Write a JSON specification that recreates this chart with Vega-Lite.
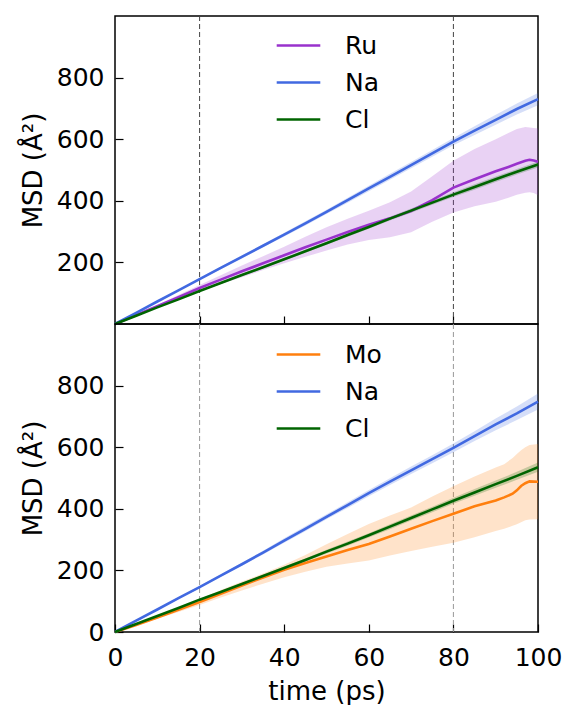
{
"$schema":"https://vega.github.io/schema/vega-lite/v6.json",
"padding":{"left":19,"top":14,"right":2,"bottom":4},
"spacing":0,
"bounds":"flush",
"resolve":{"scale":{"color":"independent"},"legend":{"color":"independent"}},
"config":{
"font":"DejaVu Sans",
"view":{"stroke":"black","strokeWidth":1.5},
"axis":{"domain":false,"grid":false,"tickColor":"black","tickWidth":1.2,"tickSize":-8,"labelFontSize":25,"titleFontSize":26,"labelColor":"black","titleColor":"black","titleFontWeight":"normal"},
"axisY":{"labelPadding":19},
"axisX":{"labelPadding":21},
"legend":{"orient":"none","title":null,"symbolType":"stroke","symbolSize":1900,"symbolStrokeWidth":2.6,"symbolOpacity":1,"labelFontSize":25,"labelOffset":23,"labelColor":"black","rowPadding":0}
},
"datasets":{
"vl":[{"t":20},{"t":80}],
"msd":[
{"p":"top","s":"Ru","t":0,"m":0,"lo":0,"hi":0},
{"p":"top","s":"Ru","t":5,"m":29,"lo":27,"hi":31},
{"p":"top","s":"Ru","t":10,"m":58,"lo":54,"hi":62},
{"p":"top","s":"Ru","t":15,"m":87,"lo":80,"hi":94},
{"p":"top","s":"Ru","t":20,"m":117,"lo":107,"hi":127},
{"p":"top","s":"Ru","t":25,"m":144,"lo":130,"hi":158},
{"p":"top","s":"Ru","t":30,"m":171,"lo":152,"hi":190},
{"p":"top","s":"Ru","t":35,"m":197,"lo":175,"hi":220},
{"p":"top","s":"Ru","t":40,"m":223,"lo":197,"hi":251},
{"p":"top","s":"Ru","t":45,"m":249,"lo":218,"hi":283},
{"p":"top","s":"Ru","t":50,"m":274,"lo":239,"hi":314},
{"p":"top","s":"Ru","t":55,"m":299,"lo":258,"hi":342},
{"p":"top","s":"Ru","t":60,"m":322,"lo":273,"hi":368},
{"p":"top","s":"Ru","t":65,"m":343,"lo":282,"hi":395},
{"p":"top","s":"Ru","t":70,"m":367,"lo":298,"hi":430},
{"p":"top","s":"Ru","t":75,"m":402,"lo":332,"hi":480},
{"p":"top","s":"Ru","t":80,"m":443,"lo":362,"hi":530},
{"p":"top","s":"Ru","t":85,"m":470,"lo":382,"hi":568},
{"p":"top","s":"Ru","t":90,"m":496,"lo":397,"hi":600},
{"p":"top","s":"Ru","t":93,"m":510,"lo":410,"hi":620},
{"p":"top","s":"Ru","t":95,"m":520,"lo":420,"hi":633},
{"p":"top","s":"Ru","t":97,"m":530,"lo":426,"hi":640},
{"p":"top","s":"Ru","t":98,"m":533,"lo":428,"hi":638},
{"p":"top","s":"Ru","t":99,"m":531,"lo":425,"hi":636},
{"p":"top","s":"Ru","t":100,"m":527,"lo":418,"hi":635},
{"p":"top","s":"Na","t":0,"m":0,"lo":0,"hi":0},
{"p":"top","s":"Na","t":5,"m":36,"lo":35,"hi":37},
{"p":"top","s":"Na","t":10,"m":73,"lo":71,"hi":75},
{"p":"top","s":"Na","t":15,"m":109,"lo":107,"hi":111},
{"p":"top","s":"Na","t":20,"m":146,"lo":143,"hi":149},
{"p":"top","s":"Na","t":25,"m":182,"lo":178,"hi":186},
{"p":"top","s":"Na","t":30,"m":218,"lo":213,"hi":223},
{"p":"top","s":"Na","t":35,"m":254,"lo":249,"hi":259},
{"p":"top","s":"Na","t":40,"m":290,"lo":284,"hi":296},
{"p":"top","s":"Na","t":45,"m":327,"lo":320,"hi":334},
{"p":"top","s":"Na","t":50,"m":364,"lo":357,"hi":371},
{"p":"top","s":"Na","t":55,"m":402,"lo":394,"hi":410},
{"p":"top","s":"Na","t":60,"m":440,"lo":431,"hi":449},
{"p":"top","s":"Na","t":65,"m":478,"lo":468,"hi":488},
{"p":"top","s":"Na","t":70,"m":516,"lo":506,"hi":526},
{"p":"top","s":"Na","t":75,"m":554,"lo":543,"hi":565},
{"p":"top","s":"Na","t":80,"m":592,"lo":580,"hi":604},
{"p":"top","s":"Na","t":85,"m":628,"lo":614,"hi":642},
{"p":"top","s":"Na","t":90,"m":663,"lo":647,"hi":679},
{"p":"top","s":"Na","t":95,"m":698,"lo":680,"hi":716},
{"p":"top","s":"Na","t":100,"m":730,"lo":710,"hi":750},
{"p":"top","s":"Cl","t":0,"m":0,"lo":0,"hi":0},
{"p":"top","s":"Cl","t":5,"m":27,"lo":26,"hi":28},
{"p":"top","s":"Cl","t":10,"m":54,"lo":53,"hi":55},
{"p":"top","s":"Cl","t":15,"m":80,"lo":78,"hi":82},
{"p":"top","s":"Cl","t":20,"m":107,"lo":105,"hi":109},
{"p":"top","s":"Cl","t":25,"m":133,"lo":130,"hi":136},
{"p":"top","s":"Cl","t":30,"m":159,"lo":156,"hi":162},
{"p":"top","s":"Cl","t":35,"m":184,"lo":180,"hi":188},
{"p":"top","s":"Cl","t":40,"m":210,"lo":206,"hi":214},
{"p":"top","s":"Cl","t":45,"m":236,"lo":231,"hi":241},
{"p":"top","s":"Cl","t":50,"m":262,"lo":257,"hi":267},
{"p":"top","s":"Cl","t":55,"m":289,"lo":283,"hi":295},
{"p":"top","s":"Cl","t":60,"m":315,"lo":309,"hi":321},
{"p":"top","s":"Cl","t":65,"m":342,"lo":336,"hi":348},
{"p":"top","s":"Cl","t":70,"m":368,"lo":361,"hi":375},
{"p":"top","s":"Cl","t":75,"m":394,"lo":387,"hi":401},
{"p":"top","s":"Cl","t":80,"m":420,"lo":412,"hi":428},
{"p":"top","s":"Cl","t":85,"m":445,"lo":436,"hi":454},
{"p":"top","s":"Cl","t":90,"m":470,"lo":461,"hi":479},
{"p":"top","s":"Cl","t":95,"m":494,"lo":485,"hi":503},
{"p":"top","s":"Cl","t":100,"m":518,"lo":508,"hi":528},
{"p":"bot","s":"Mo","t":0,"m":0,"lo":0,"hi":0},
{"p":"bot","s":"Mo","t":5,"m":23,"lo":21,"hi":25},
{"p":"bot","s":"Mo","t":10,"m":47,"lo":43,"hi":51},
{"p":"bot","s":"Mo","t":15,"m":72,"lo":65,"hi":79},
{"p":"bot","s":"Mo","t":20,"m":97,"lo":88,"hi":106},
{"p":"bot","s":"Mo","t":25,"m":124,"lo":112,"hi":136},
{"p":"bot","s":"Mo","t":30,"m":151,"lo":135,"hi":164},
{"p":"bot","s":"Mo","t":35,"m":177,"lo":157,"hi":190},
{"p":"bot","s":"Mo","t":40,"m":202,"lo":178,"hi":218},
{"p":"bot","s":"Mo","t":45,"m":224,"lo":196,"hi":250},
{"p":"bot","s":"Mo","t":50,"m":245,"lo":212,"hi":285},
{"p":"bot","s":"Mo","t":55,"m":266,"lo":222,"hi":318},
{"p":"bot","s":"Mo","t":60,"m":286,"lo":232,"hi":351},
{"p":"bot","s":"Mo","t":65,"m":310,"lo":248,"hi":378},
{"p":"bot","s":"Mo","t":70,"m":335,"lo":263,"hi":404},
{"p":"bot","s":"Mo","t":75,"m":360,"lo":277,"hi":440},
{"p":"bot","s":"Mo","t":80,"m":384,"lo":290,"hi":473},
{"p":"bot","s":"Mo","t":85,"m":408,"lo":308,"hi":505},
{"p":"bot","s":"Mo","t":90,"m":427,"lo":328,"hi":534},
{"p":"bot","s":"Mo","t":92,"m":437,"lo":335,"hi":545},
{"p":"bot","s":"Mo","t":94,"m":449,"lo":345,"hi":565},
{"p":"bot","s":"Mo","t":95,"m":460,"lo":350,"hi":578},
{"p":"bot","s":"Mo","t":96,"m":474,"lo":356,"hi":590},
{"p":"bot","s":"Mo","t":97,"m":483,"lo":363,"hi":600},
{"p":"bot","s":"Mo","t":98,"m":489,"lo":365,"hi":607},
{"p":"bot","s":"Mo","t":100,"m":488,"lo":366,"hi":610},
{"p":"bot","s":"Na","t":0,"m":0,"lo":0,"hi":0},
{"p":"bot","s":"Na","t":5,"m":37,"lo":36,"hi":38},
{"p":"bot","s":"Na","t":10,"m":73,"lo":71,"hi":75},
{"p":"bot","s":"Na","t":15,"m":110,"lo":107,"hi":113},
{"p":"bot","s":"Na","t":20,"m":146,"lo":143,"hi":149},
{"p":"bot","s":"Na","t":25,"m":183,"lo":179,"hi":187},
{"p":"bot","s":"Na","t":30,"m":220,"lo":215,"hi":225},
{"p":"bot","s":"Na","t":35,"m":258,"lo":252,"hi":264},
{"p":"bot","s":"Na","t":40,"m":297,"lo":290,"hi":304},
{"p":"bot","s":"Na","t":45,"m":335,"lo":327,"hi":343},
{"p":"bot","s":"Na","t":50,"m":374,"lo":366,"hi":382},
{"p":"bot","s":"Na","t":55,"m":412,"lo":403,"hi":421},
{"p":"bot","s":"Na","t":60,"m":451,"lo":441,"hi":461},
{"p":"bot","s":"Na","t":65,"m":488,"lo":477,"hi":499},
{"p":"bot","s":"Na","t":70,"m":525,"lo":513,"hi":537},
{"p":"bot","s":"Na","t":75,"m":561,"lo":548,"hi":574},
{"p":"bot","s":"Na","t":80,"m":598,"lo":584,"hi":612},
{"p":"bot","s":"Na","t":85,"m":636,"lo":620,"hi":652},
{"p":"bot","s":"Na","t":90,"m":674,"lo":655,"hi":693},
{"p":"bot","s":"Na","t":95,"m":710,"lo":688,"hi":732},
{"p":"bot","s":"Na","t":100,"m":748,"lo":722,"hi":774},
{"p":"bot","s":"Cl","t":0,"m":0,"lo":0,"hi":0},
{"p":"bot","s":"Cl","t":5,"m":26,"lo":25,"hi":27},
{"p":"bot","s":"Cl","t":10,"m":52,"lo":51,"hi":53},
{"p":"bot","s":"Cl","t":15,"m":78,"lo":76,"hi":80},
{"p":"bot","s":"Cl","t":20,"m":105,"lo":103,"hi":107},
{"p":"bot","s":"Cl","t":25,"m":130,"lo":127,"hi":133},
{"p":"bot","s":"Cl","t":30,"m":156,"lo":152,"hi":160},
{"p":"bot","s":"Cl","t":35,"m":182,"lo":178,"hi":186},
{"p":"bot","s":"Cl","t":40,"m":208,"lo":203,"hi":213},
{"p":"bot","s":"Cl","t":45,"m":234,"lo":229,"hi":239},
{"p":"bot","s":"Cl","t":50,"m":261,"lo":255,"hi":267},
{"p":"bot","s":"Cl","t":55,"m":287,"lo":280,"hi":294},
{"p":"bot","s":"Cl","t":60,"m":314,"lo":307,"hi":321},
{"p":"bot","s":"Cl","t":65,"m":342,"lo":334,"hi":350},
{"p":"bot","s":"Cl","t":70,"m":370,"lo":362,"hi":378},
{"p":"bot","s":"Cl","t":75,"m":398,"lo":389,"hi":407},
{"p":"bot","s":"Cl","t":80,"m":426,"lo":416,"hi":436},
{"p":"bot","s":"Cl","t":85,"m":453,"lo":442,"hi":464},
{"p":"bot","s":"Cl","t":90,"m":480,"lo":468,"hi":492},
{"p":"bot","s":"Cl","t":95,"m":507,"lo":494,"hi":520},
{"p":"bot","s":"Cl","t":100,"m":535,"lo":520,"hi":550}
]
},
"vconcat":[
{
"width":423,"height":308,
"layer":[
{"data":{"name":"vl"},"mark":{"type":"rule","strokeDash":[5,3],"color":"#444444","strokeWidth":1},
 "encoding":{"x":{"field":"t","type":"quantitative","scale":{"domain":[0,100],"nice":false},"axis":{"values":[20,40,60,80],"labels":false,"title":null}}}},
{"data":{"name":"msd"},"transform":[{"filter":"datum.p==='top'"}],"mark":{"type":"area","fillOpacity":0.22},
 "encoding":{
  "x":{"field":"t","type":"quantitative","scale":{"domain":[0,100],"nice":false},"axis":{"values":[20,40,60,80],"labels":false,"title":null}},
  "y":{"field":"lo","type":"quantitative","scale":{"domain":[0,1000],"nice":false},"axis":{"values":[200,400,600,800],"title":"MSD (Å²)","titlePadding":10}},
  "y2":{"field":"hi"},
  "color":{"field":"s","type":"nominal","scale":{"domain":["Ru","Na","Cl"],"range":["#9932CC","#4169E1","#006400"]},"legend":{"legendX":160,"legendY":6}}}},
{"data":{"name":"msd"},"transform":[{"filter":"datum.p==='top'"}],"mark":{"type":"line","strokeWidth":2.6},
 "encoding":{
  "x":{"field":"t","type":"quantitative","scale":{"domain":[0,100],"nice":false},"axis":{"values":[20,40,60,80],"labels":false,"title":null}},
  "y":{"field":"m","type":"quantitative","scale":{"domain":[0,1000],"nice":false},"axis":{"values":[200,400,600,800],"title":"MSD (Å²)","titlePadding":10}},
  "color":{"field":"s","type":"nominal","scale":{"domain":["Ru","Na","Cl"],"range":["#9932CC","#4169E1","#006400"]},"legend":{"legendX":160,"legendY":6}}}}
]
},
{
"width":423,"height":308,
"layer":[
{"data":{"name":"vl"},"mark":{"type":"rule","strokeDash":[5,3],"color":"#999999","strokeWidth":1},
 "encoding":{"x":{"field":"t","type":"quantitative","scale":{"domain":[0,100],"nice":false},"axis":{"values":[0,20,40,60,80,100],"labelFlush":false,"title":"time (ps)","titlePadding":8}}}},
{"data":{"name":"msd"},"transform":[{"filter":"datum.p==='bot'"}],"mark":{"type":"area","fillOpacity":0.22},
 "encoding":{
  "x":{"field":"t","type":"quantitative","scale":{"domain":[0,100],"nice":false},"axis":{"values":[0,20,40,60,80,100],"labelFlush":false,"title":"time (ps)","titlePadding":8}},
  "y":{"field":"lo","type":"quantitative","scale":{"domain":[0,1000],"nice":false},"axis":{"values":[0,200,400,600,800],"title":"MSD (Å²)","titlePadding":10}},
  "y2":{"field":"hi"},
  "color":{"field":"s","type":"nominal","scale":{"domain":["Mo","Na","Cl"],"range":["#ff7f0e","#4169E1","#006400"]},"legend":{"legendX":160,"legendY":7}}}},
{"data":{"name":"msd"},"transform":[{"filter":"datum.p==='bot'"}],"mark":{"type":"line","strokeWidth":2.6},
 "encoding":{
  "x":{"field":"t","type":"quantitative","scale":{"domain":[0,100],"nice":false},"axis":{"values":[0,20,40,60,80,100],"labelFlush":false,"title":"time (ps)","titlePadding":8}},
  "y":{"field":"m","type":"quantitative","scale":{"domain":[0,1000],"nice":false},"axis":{"values":[0,200,400,600,800],"title":"MSD (Å²)","titlePadding":10}},
  "color":{"field":"s","type":"nominal","scale":{"domain":["Mo","Na","Cl"],"range":["#ff7f0e","#4169E1","#006400"]},"legend":{"legendX":160,"legendY":7}}}}
]
}
]
}
